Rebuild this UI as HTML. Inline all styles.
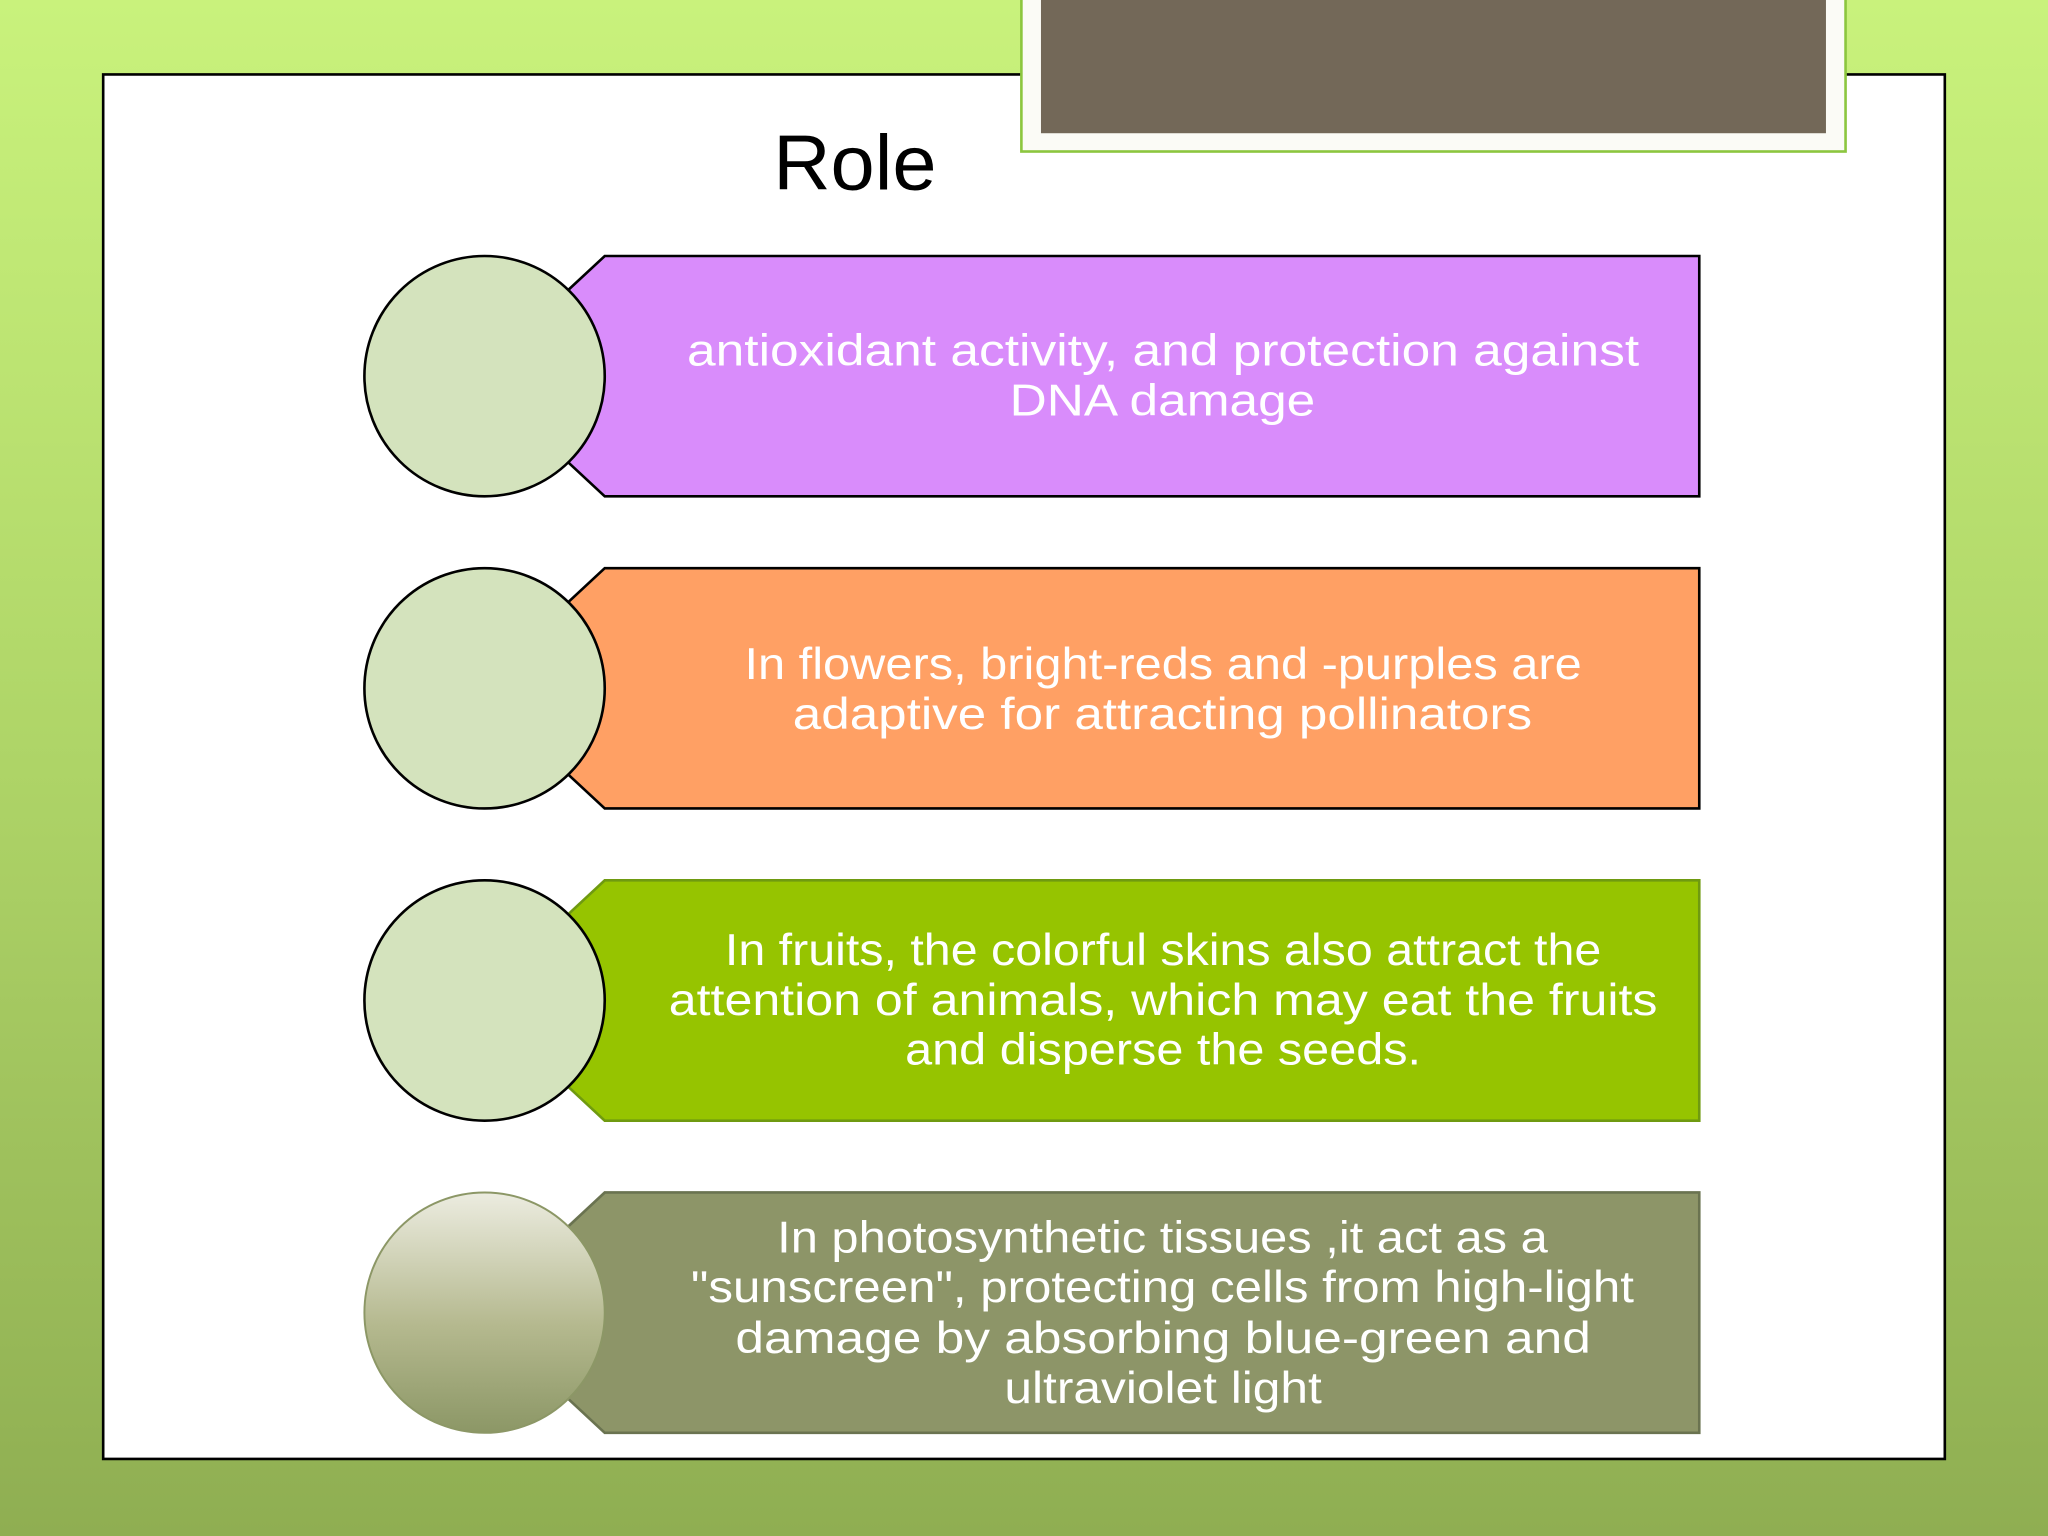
<!DOCTYPE html>
<html><head><meta charset="utf-8"><style>html,body{margin:0;padding:0;overflow:hidden}svg{display:block}</style></head>
<body>
<svg width="2048" height="1536" viewBox="0 0 1568 1176" xmlns="http://www.w3.org/2000/svg" font-family="'Liberation Sans', sans-serif">
<defs>
<linearGradient id="bg" x1="0" y1="0" x2="0" y2="1">
<stop offset="0" stop-color="#c9f27c"/><stop offset="0.5" stop-color="#aed467"/><stop offset="1" stop-color="#8fae52"/>
</linearGradient>
<linearGradient id="c4" x1="0" y1="0" x2="0" y2="1">
<stop offset="0" stop-color="#ecece0"/><stop offset="0.55" stop-color="#b5b98f"/><stop offset="1" stop-color="#8c9766"/>
</linearGradient>
</defs>
<rect width="1568" height="1176" fill="url(#bg)"/>
<rect x="79" y="57" width="1410" height="1060" fill="#fff" stroke="#000" stroke-width="2"/>
<rect x="782" y="-5" width="631" height="121" fill="#fbfbf6" stroke="#8cc63f" stroke-width="2"/>
<rect x="797" y="-5" width="601" height="107" fill="#736858"/>
<text x="592" y="145" font-size="60" fill="#000" textLength="125" lengthAdjust="spacingAndGlyphs">Role</text>
<g stroke-width="2">
<polygon points="463,196 1301,196 1301,380 463,380 420,340 420,236" fill="#d98cfb" stroke="#000"/>
<circle cx="371" cy="288" r="92" fill="#d4e3bd" stroke="#000"/>
<polygon points="463,435 1301,435 1301,619 463,619 420,579 420,475" fill="#ffa064" stroke="#000"/>
<circle cx="371" cy="527" r="92" fill="#d4e3bd" stroke="#000"/>
<polygon points="463,674 1301,674 1301,858 463,858 420,818 420,714" fill="#96c400" stroke="#6f9a10"/>
<circle cx="371" cy="766" r="92" fill="#d4e3bd" stroke="#000"/>
<polygon points="463,913 1301,913 1301,1097 463,1097 420,1057 420,953" fill="#8d9568" stroke="#6a7350"/>
<circle cx="371" cy="1005" r="92" fill="url(#c4)" stroke="#8c9766" stroke-width="1.5"/>
</g>
<g fill="#fff" font-size="34" lengthAdjust="spacingAndGlyphs">
<text x="526" y="280" textLength="729" lengthAdjust="spacingAndGlyphs">antioxidant activity, and protection against</text>
<text x="773" y="318" textLength="234" lengthAdjust="spacingAndGlyphs">DNA damage</text>
<text x="570" y="520" textLength="641" lengthAdjust="spacingAndGlyphs">In flowers, bright-reds and -purples are</text>
<text x="607" y="558" textLength="566" lengthAdjust="spacingAndGlyphs">adaptive for attracting pollinators</text>
<text x="555" y="739" textLength="671" lengthAdjust="spacingAndGlyphs">In fruits, the colorful skins also attract the</text>
<text x="512" y="777" textLength="757" lengthAdjust="spacingAndGlyphs">attention of animals, which may eat the fruits</text>
<text x="693" y="815" textLength="395" lengthAdjust="spacingAndGlyphs">and disperse the seeds.</text>
<text x="595" y="959" textLength="590" lengthAdjust="spacingAndGlyphs">In photosynthetic tissues ,it act as a</text>
<text x="529" y="997" textLength="722" lengthAdjust="spacingAndGlyphs">"sunscreen", protecting cells from high-light</text>
<text x="563" y="1036" textLength="655" lengthAdjust="spacingAndGlyphs">damage by absorbing blue-green and</text>
<text x="769" y="1074" textLength="243" lengthAdjust="spacingAndGlyphs">ultraviolet light</text>
</g>
</svg>
</body></html>
